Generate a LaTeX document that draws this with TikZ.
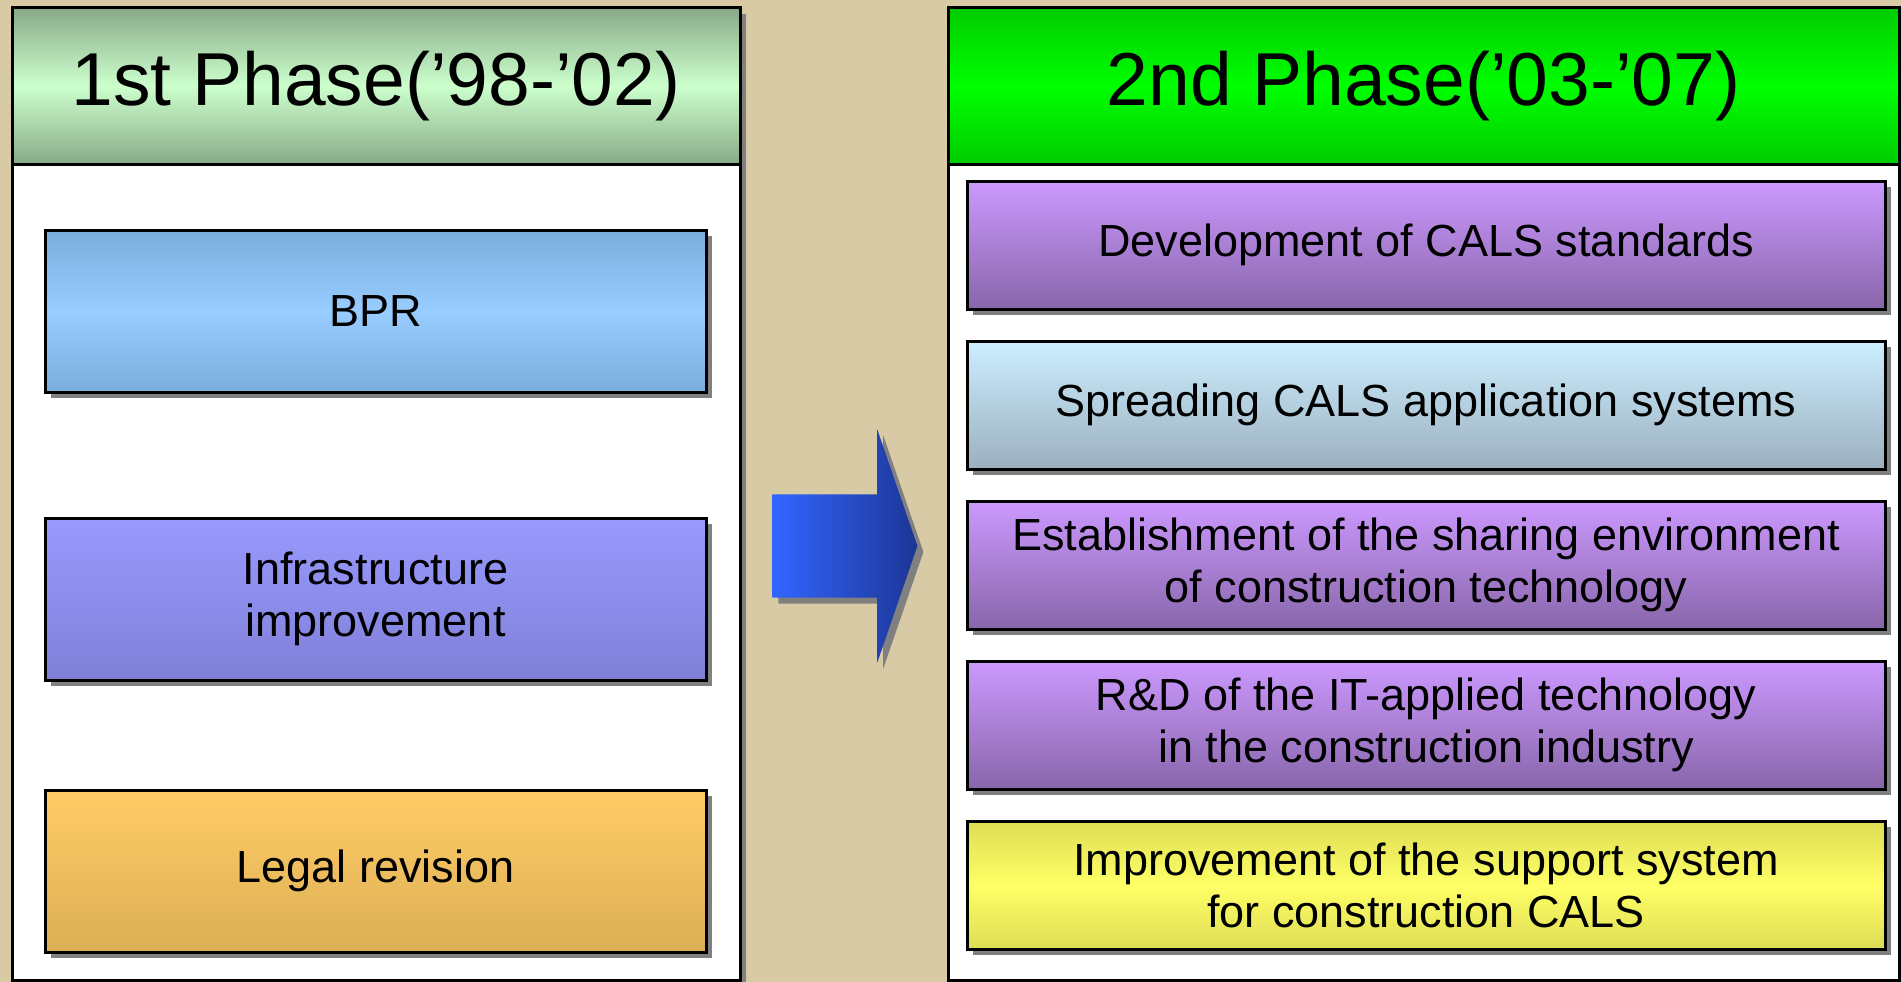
\documentclass[tikz,border=0pt]{standalone}
\usepackage{fontspec}
\setmainfont{Liberation Sans}
\usetikzlibrary{positioning,shadows,shapes.arrows}
\definecolor{BackColor}{RGB}{216,202,165}
\definecolor{HeadOneEdge}{RGB}{136,170,136}
\definecolor{HeadOneMid}{RGB}{204,255,204}
\definecolor{HeadTwoEdge}{RGB}{0,204,0}
\definecolor{HeadTwoMid}{RGB}{0,255,0}
\definecolor{BPREdge}{RGB}{122,174,220}
\definecolor{BPRMid}{RGB}{153,204,255}
\definecolor{InfraTop}{RGB}{153,153,255}
\definecolor{InfraBottom}{RGB}{128,128,216}
\definecolor{LegalTop}{RGB}{255,204,102}
\definecolor{LegalBottom}{RGB}{220,175,85}
\definecolor{PurpleTop}{RGB}{204,153,255}
\definecolor{PurpleBottom}{RGB}{136,102,170}
\definecolor{SpreadTop}{RGB}{204,238,255}
\definecolor{SpreadBottom}{RGB}{156,176,190}
\definecolor{YellowEdge}{RGB}{221,221,85}
\definecolor{YellowMid}{RGB}{255,255,102}
\definecolor{ArrowLeft}{RGB}{51,102,255}
\definecolor{ArrowRight}{RGB}{28,54,150}

\begin{document}
\begin{tikzpicture}[x=1pt, y=1pt,
    shade box/.style={drop shadow={shadow xshift=6pt, shadow yshift=-6pt,
        fill=black!50, opacity=1}},
    panel/.style={draw, line width=3pt, fill=white, minimum height=972pt,
        shade box},
    head/.style={draw, line width=3pt, minimum height=156pt,
        font=\fontsize{75}{80}\selectfont},
    box/.style={draw, line width=3pt, align=center,
        font=\fontsize{45}{52}\selectfont, shade box},
    leftbox/.style={box, minimum width=661pt, minimum height=162pt},
    rightbox/.style={box, minimum width=918pt, minimum height=128pt}]

    \useasboundingbox (0,0) rectangle (1901,-982);
    \fill[BackColor] (0,0) rectangle (1901,-982);

    \node[panel, minimum width=728pt] at (376,-494) (Phase1Panel) {};
    \node[head, minimum width=728pt, anchor=north,
        top color=HeadOneEdge, bottom color=HeadOneEdge, middle color=HeadOneMid]
        at (Phase1Panel.north) (Phase1Head) {1st Phase(’98-’02)};

    \node[panel, minimum width=951pt] at (1423.5,-494) (Phase2Panel) {};
    \node[head, minimum width=951pt, anchor=north,
        top color=HeadTwoEdge, bottom color=HeadTwoEdge, middle color=HeadTwoMid]
        at (Phase2Panel.north) (Phase2Head) {2nd Phase(’03-’07)};

    \node[leftbox, top color=BPREdge, bottom color=BPREdge, middle color=BPRMid]
        at (375.5,-311) (BPRBox) {BPR};
    \node[leftbox, top color=InfraTop, bottom color=InfraBottom]
        at (375.5,-599) (InfraBox) {Infrastructure\\improvement};
    \node[leftbox, top color=LegalTop, bottom color=LegalBottom]
        at (375.5,-871) (LegalBox) {Legal revision};

    \node[rightbox, top color=PurpleTop, bottom color=PurpleBottom]
        at (1426,-245) (StandardBox) {Development of CALS standards};
    \node[rightbox, top color=SpreadTop, bottom color=SpreadBottom,
        below=29pt of StandardBox] (SpreadBox) {Spreading CALS application systems};
    \node[rightbox, top color=PurpleTop, bottom color=PurpleBottom,
        below=29pt of SpreadBox] (ShareBox)
        {Establishment of the sharing environment\\of construction  technology};
    \node[rightbox, top color=PurpleTop, bottom color=PurpleBottom,
        below=29pt of ShareBox] (RDBox)
        {R\&D of the IT-applied technology\\in the construction industry};
    \node[rightbox, top color=YellowEdge, bottom color=YellowEdge, middle color=YellowMid,
        below=29pt of RDBox] (SupportBox)
        {Improvement of the support system\\for construction CALS};

    \node[single arrow, minimum height=145pt,
        single arrow head extend=65pt, single arrow head indent=0pt,
        single arrow tip angle=142, inner xsep=0pt, inner ysep=51.5pt,
        left color=ArrowLeft, right color=ArrowRight, shade box]
        at (836,-546) (PhaseArrow) {};

\end{tikzpicture}
\end{document}
